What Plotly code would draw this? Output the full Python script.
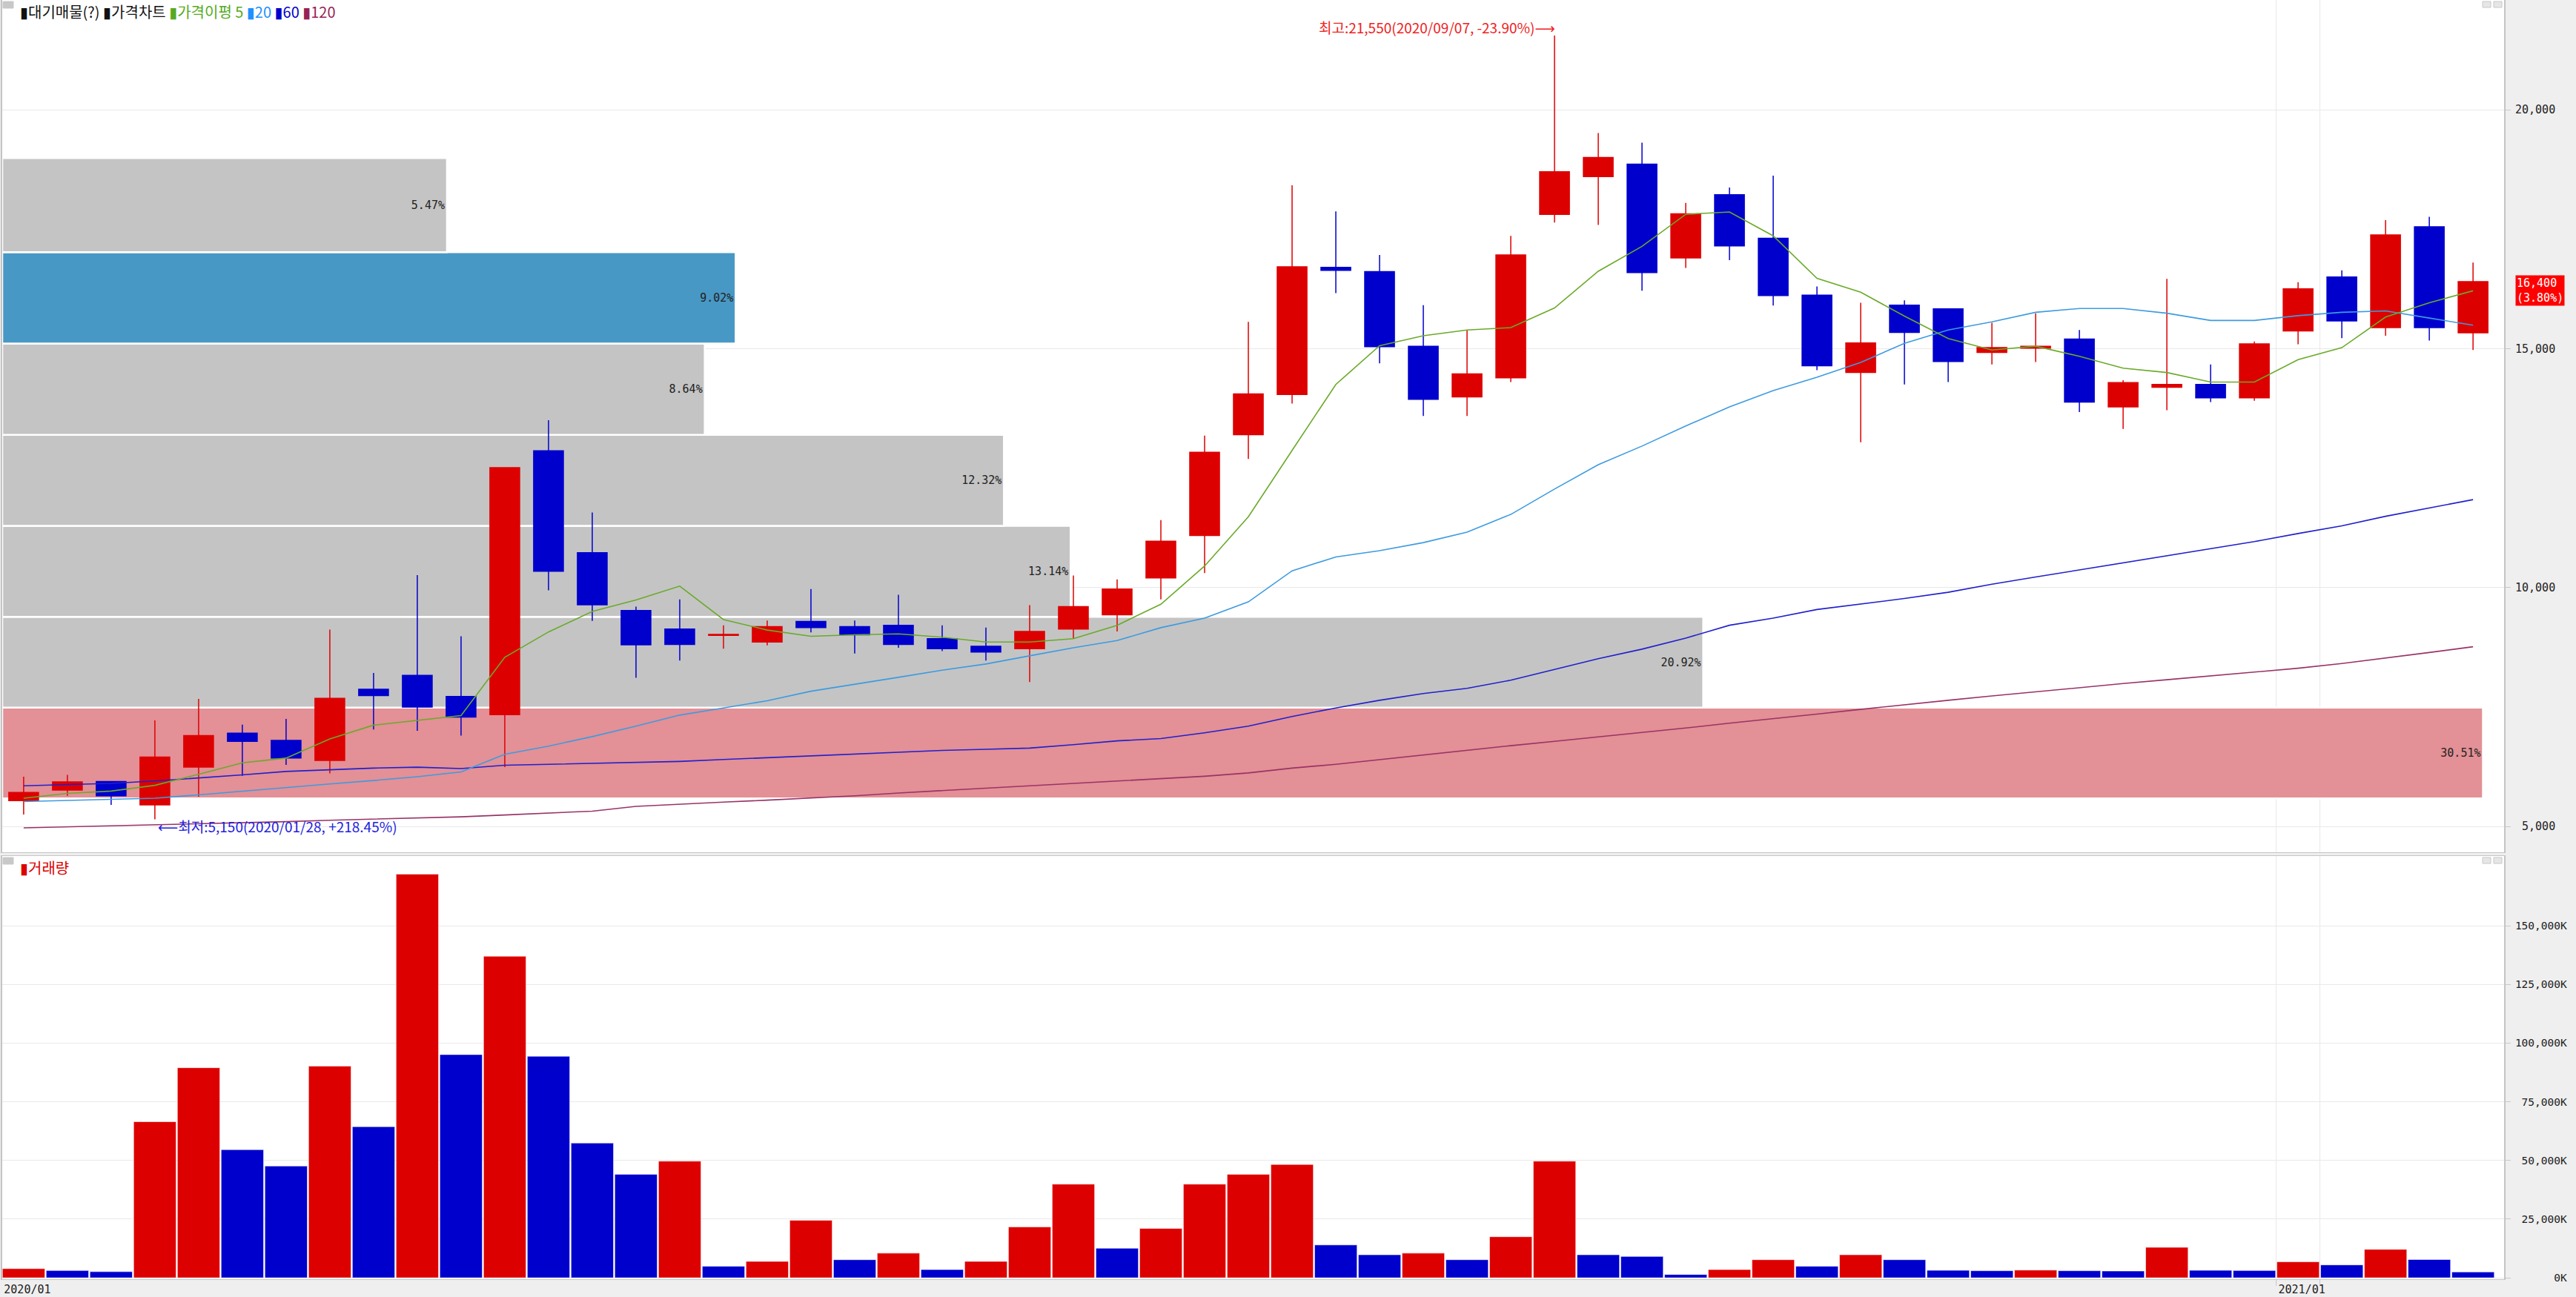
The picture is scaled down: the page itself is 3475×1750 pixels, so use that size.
import plotly.graph_objects as go
import pandas as pd

# ---------------- data ----------------
weeks = pd.date_range("2020-01-06", periods=57, freq="W-MON").strftime("%Y-%m-%d").tolist()

open_ = [5540, 5760, 5940, 5450, 6240, 6950, 6800, 6380, 7870, 8160,
         7720, 7340, 12860, 10730, 9520, 9130, 9000, 8860, 9290, 9180,
         9210, 8930, 8770, 8720, 9130, 9430, 10200, 11090, 13200, 14040,
         16700, 16610, 15050, 13990, 14390, 17810, 18600, 18860, 16900, 18220,
         17310, 16120, 14500, 15910, 15830, 14920, 15010, 15200, 13780, 14190,
         14250, 13970, 15370, 16500, 15440, 17550, 15330]
high = [6040, 6080, 5950, 7220, 7670, 7130, 7250, 9120, 8210, 10260,
        8980, 12510, 13500, 11570, 9600, 9750, 9210, 9310, 9970, 9310,
        9850, 9210, 9160, 9630, 10250, 10170, 11410, 13180, 15560, 18420,
        17870, 16960, 15910, 15380, 17360, 21550, 19510, 19310, 18050, 18370,
        18620, 16300, 15960, 16010, 15830, 15540, 15740, 15390, 14340, 16460,
        14670, 15150, 16390, 16640, 17690, 17760, 16800]
low = [5250, 5640, 5450, 5150, 5620, 6060, 6290, 6110, 7030, 7000,
       6900, 6240, 9940, 9300, 8110, 8470, 8720, 8790, 9060, 8620,
       8740, 8670, 8470, 8020, 8930, 9080, 9750, 10300, 12690, 13850,
       16160, 14690, 13590, 13590, 14300, 17640, 17590, 16210, 16690, 16850,
       15900, 14550, 13040, 14250, 14300, 14670, 14720, 13670, 13320, 13710,
       13880, 13910, 15090, 15220, 15270, 15170, 14970]
close = [5710, 5930, 5640, 6450, 6900, 6780, 6430, 7680, 7740, 7500,
         7290, 12510, 10340, 9640, 8800, 8810, 9020, 9180, 9160, 9010,
         8810, 8720, 8650, 9080, 9600, 9970, 10970, 12830, 14050, 16710,
         16640, 15040, 13940, 14470, 16960, 18700, 19000, 16590, 17820, 17150,
         16110, 14640, 15120, 15340, 14730, 15020, 15050, 13880, 14290, 14250,
         13970, 15100, 16250, 15580, 17380, 15440, 16400]

ma5 = [5590, 5690, 5740, 5860, 6090, 6330, 6430, 6830, 7120, 7220,
       7320, 8540, 9070, 9500, 9740, 10030, 9330, 9110, 8980, 9010,
       9030, 8960, 8860, 8860, 8930, 9210, 9650, 10450, 11480, 12870,
       14250, 15060, 15270, 15390, 15440, 15850, 16620, 17140, 17810, 17860,
       17360, 16470, 16180, 15680, 15210, 14970, 15050, 14840, 14590, 14500,
       14300, 14300, 14770, 15020, 15660, 15960, 16210]
ma20 = [5520, 5540, 5560, 5590, 5660, 5740, 5820, 5890, 5960, 6040,
        6140, 6510, 6680, 6880, 7100, 7330, 7480, 7630, 7830, 7970,
        8120, 8270, 8400, 8570, 8740, 8890, 9160, 9360, 9700, 10350,
        10640, 10770, 10940, 11160, 11530, 12060, 12570, 12960, 13380, 13780,
        14120, 14400, 14710, 15110, 15390, 15560, 15760, 15840, 15840, 15740,
        15590, 15590, 15690, 15760, 15790, 15640, 15490]
ma60 = [5850, 5870, 5900, 5950, 6010, 6080, 6150, 6190, 6220, 6240,
        6210, 6280, 6300, 6330, 6350, 6360, 6400, 6440, 6480, 6520,
        6560, 6590, 6615, 6640, 6710, 6790, 6840, 6960, 7100, 7300,
        7480, 7640, 7780, 7890, 8060, 8280, 8510, 8710, 8940, 9210,
        9360, 9540, 9650, 9770, 9900, 10070, 10220, 10370, 10520, 10670,
        10820, 10960, 11130, 11290, 11490, 11660, 11840]
ma120 = [4970, 4990, 5010, 5040, 5060, 5080, 5100, 5130, 5150, 5180,
         5200, 5240, 5280, 5320, 5420, 5470, 5510, 5550, 5590, 5640,
         5700, 5750, 5800, 5850, 5890, 5940, 5990, 6050, 6120, 6220,
         6300, 6400, 6490, 6590, 6690, 6780, 6870, 6960, 7060, 7160,
         7250, 7350, 7450, 7550, 7640, 7730, 7820, 7910, 7990, 8070,
         8150, 8230, 8310, 8410, 8520, 8640, 8760]

volume_k = [3900, 3100, 2600, 66500, 89500, 54600, 47600, 90200, 64400, 172000,
            95100, 137000, 94400, 57400, 44100, 49700, 4900, 7000, 24500, 7700,
            10500, 3500, 7000, 21700, 39900, 12600, 21000, 39900, 44100, 48300,
            14000, 9800, 10500, 7700, 17500, 49700, 9800, 9100, 1400, 3500,
            7700, 4900, 9800, 7700, 3200, 3000, 3300, 3000, 2900, 13000,
            3200, 3100, 6800, 5500, 12100, 7800, 2500]

# volume profile (대기매물): price bands bottom -> top
band_edges = [5585, 7485, 9385, 11290, 13195, 15105, 17020, 18990]
profile_pct = [30.51, 20.92, 13.14, 12.32, 8.64, 9.02, 5.47]
profile_kind = ["max", "", "", "", "", "cur", ""]

price_ticks = [5000, 10000, 15000, 20000]
volume_ticks = [0, 25000, 50000, 75000, 100000, 125000, 150000]
x_tick_idx = [0, 52]
x_tick_text = ["2020/01", "2021/01"]

# ---------------- styles ----------------
RED = "#dd0000"
BLUE = "#0000cc"
GRID = "#e9e9e9"
AXLINE = "#c4c4c4"
C_MA5, C_MA20, C_MA60, C_MA120 = "#6aaa2a", "#3d9be0", "#2020cc", "#993366"
BOX_COL = {"max": "#e39096", "cur": "#4898c5", "": "#c4c4c4"}
MONO = "DejaVu Sans Mono"
KR = "Noto Sans CJK KR, DejaVu Sans"

W, H = 3475, 1750
ML, MR, MT, MB = 3, 97, 0, 24
PW = W - ML - MR
PH = H - MT - MB
PRICE_DOM = [(PH - 1150) / PH, 1.0]
VOL_DOM = [0.0, (PH - 1155) / PH]
PCT_RANGE = 30.77
XR = [-0.49, 56.71]

fig = go.Figure()

# volume-profile boxes (base subplot, below candles)
centers = [(band_edges[i] + band_edges[i + 1]) / 2 for i in range(len(profile_pct))]
heights = [band_edges[i + 1] - band_edges[i] for i in range(len(profile_pct))]
fig.add_trace(go.Bar(
    orientation="h", x=profile_pct, y=centers, width=heights, base=0,
    xaxis="x", yaxis="y",
    marker=dict(color=[BOX_COL[k] for k in profile_kind], line=dict(color="white", width=2.5)),
    text=[f"{p:.2f}%" for p in profile_pct], textposition="inside", insidetextanchor="end",
    textangle=0, constraintext="none",
    insidetextfont=dict(family=MONO, size=15, color="#222222"),
    hoverinfo="skip", showlegend=False))

# candles
fig.add_trace(go.Candlestick(
    x=weeks, open=open_, high=high, low=low, close=close, xaxis="x2", yaxis="y",
    increasing=dict(line=dict(color=RED, width=1.5), fillcolor=RED),
    decreasing=dict(line=dict(color=BLUE, width=1.5), fillcolor=BLUE),
    whiskerwidth=0, showlegend=False, name="가격차트"))

for vals, col, nm in [(ma120, C_MA120, "120"), (ma60, C_MA60, "60"), (ma20, C_MA20, "20"), (ma5, C_MA5, "5")]:
    fig.add_trace(go.Scatter(x=weeks, y=vals, xaxis="x2", yaxis="y", mode="lines",
                             line=dict(color=col, width=1.6), name=nm, showlegend=False))

# volume
vol_colors = [RED] + [RED if volume_k[i] > volume_k[i - 1] else BLUE for i in range(1, len(volume_k))]
fig.add_trace(go.Bar(x=weeks, y=volume_k, xaxis="x3", yaxis="y2",
                     marker=dict(color=vol_colors, line=dict(color="rgba(255,255,255,0.55)", width=1)),
                     showlegend=False, name="거래량"))

price_text = [f"{v:,}".rjust(6, "\u00a0") for v in price_ticks]
vol_text = [f"{v:,}K".rjust(8, "\u00a0") for v in volume_ticks]

fig.update_layout(
    width=W, height=H, margin=dict(l=ML, r=MR, t=MT, b=MB, autoexpand=False),
    paper_bgcolor="#efefef", plot_bgcolor="white", showlegend=False,
    boxgap=0.03, bargap=0.03,
    xaxis=dict(domain=[0, 1], range=[0, PCT_RANGE], visible=False, anchor="y", fixedrange=True),
    xaxis2=dict(type="category", overlaying="x", anchor="y", range=XR,
                tickvals=[weeks[i] for i in x_tick_idx], ticktext=["", ""],
                showticklabels=False, tickson="boundaries", ticks="",
                showgrid=True, gridcolor=GRID, gridwidth=1,
                rangeslider=dict(visible=False),
                showline=True, mirror=True, linecolor=AXLINE, linewidth=1),
    yaxis=dict(domain=PRICE_DOM, range=[4458, 22296], side="right", anchor="x",
               tickvals=price_ticks, ticktext=price_text,
               tickfont=dict(family=MONO, size=15, color="#222222"),
               ticks="outside", ticklen=7, tickcolor="#c8c8c8", ticklabelstandoff=3,
               showgrid=True, gridcolor=GRID, zeroline=False,
               showline=True, mirror=True, linecolor=AXLINE, linewidth=2),
    xaxis3=dict(type="category", domain=[0, 1], anchor="y2", range=XR,
                tickvals=[weeks[i] for i in x_tick_idx], ticktext=x_tick_text,
                tickson="boundaries", ticks="outside", ticklen=8, tickcolor="#c8c8c8",
                tickangle=0, ticklabelshift=5, automargin=False,
                tickfont=dict(family=MONO, size=15, color="#222222"),
                showgrid=True, gridcolor=GRID,
                showline=True, mirror=True, linecolor=AXLINE, linewidth=1,
                rangeslider=dict(visible=False)),
    yaxis2=dict(domain=VOL_DOM, range=[-600, 179700], side="right", anchor="x3",
                tickvals=volume_ticks, ticktext=vol_text,
                tickfont=dict(family=MONO, size=14.5, color="#222222"),
                ticks="outside", ticklen=7, tickcolor="#c8c8c8", ticklabelstandoff=3,
                showgrid=True, gridcolor=GRID, zeroline=False,
                showline=True, mirror=True, linecolor=AXLINE, linewidth=2),
)

legend_html = ('<span style="color:#111111">▮대기매물(?) ▮가격차트</span> '
               '<span style="color:#55aa22">▮가격이평 5</span> '
               '<span style="color:#1e90ff">▮20</span> '
               '<span style="color:#0000cc">▮60</span> '
               '<span style="color:#992255">▮120</span>')
annotations = [
    dict(xref="paper", yref="paper", x=0, y=1, xanchor="left", yanchor="top",
         xshift=22, yshift=1, text=legend_html, showarrow=False,
         font=dict(family=KR, size=20, color="#111111")),
    dict(xref="paper", yref="paper", x=0, y=VOL_DOM[1], xanchor="left", yanchor="top",
         xshift=22, yshift=1, text="▮거래량", showarrow=False,
         font=dict(family=KR, size=20, color="#dd0000")),
    dict(xref="x2", yref="y", x=weeks[35], y=high[35], xanchor="right", yanchor="middle",
         xshift=3, yshift=12, showarrow=False,
         text="최고:21,550(2020/09/07, -23.90%)⟶",
         font=dict(family=KR, size=19, color="#ee2222")),
    dict(xref="x2", yref="y", x=weeks[3], y=low[3], xanchor="left", yanchor="middle",
         xshift=2, yshift=-9, showarrow=False,
         text="⟵최저:5,150(2020/01/28, +218.45%)",
         font=dict(family=KR, size=19, color="#2222dd")),
    dict(xref="paper", yref="y", x=(3393 - ML) / PW, y=close[-1], xanchor="left", yanchor="top",
         yshift=9, showarrow=False, text=f"{close[-1]:,}<br>(3.80%)",
         bgcolor="#ff0000", borderpad=1, align="left",
         font=dict(family=MONO, size=15, color="white")),
]
fig.update_layout(annotations=annotations)

# decorative panel-header squares and window buttons
deco = []
def px_rect(x0, x1, y0, y1, fill, line="#c8c8c8"):
    return dict(type="rect", xref="paper", yref="paper",
                x0=(x0 - ML) / PW, x1=(x1 - ML) / PW,
                y0=(PH - y1) / PH, y1=(PH - y0) / PH,
                fillcolor=fill, line=dict(width=1, color=line), layer="above")
for top_px in (2, 1157):
    deco.append(px_rect(4, 18, top_px, top_px + 9, "#c8c8c8", "#c8c8c8"))
    deco.append(px_rect(3349, 3360, top_px, top_px + 8, "#e6e6e6"))
    deco.append(px_rect(3364, 3375, top_px, top_px + 8, "#e6e6e6"))
fig.update_layout(shapes=deco)

fig.write_html("out.html", config={"displayModeBar": False},
               post_script="document.body.style.margin='0';document.body.style.overflow='hidden';")
